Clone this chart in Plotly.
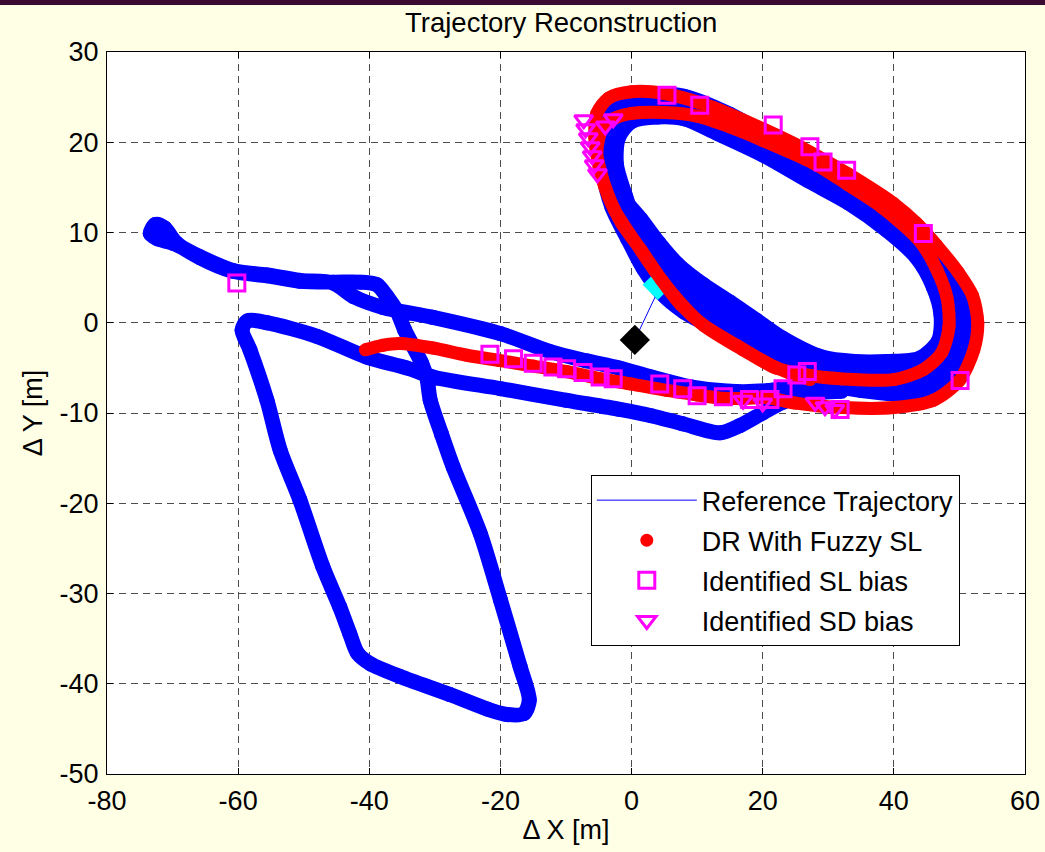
import plotly.graph_objects as go

# ---------------- data ----------------
# Reference trajectory (blue), metres: start, five loops round the ellipse,
# the long westward leg, the knob, the parallelogram and the return leg
ref_x = [0.5, 4.2, 1.5,
         -0.9, -2.3, -2, 0, 4, 8, 13, 20, 27, 33, 39, 43.5, 46, 47.2, 46.8, 44, 39, 34, 29, 23, 19, 15, 11, 7, 4.2, 1.4,
         -1.7, -3, -2.8, -0.5, 3, 8, 14, 20, 27, 33, 39, 44, 47.2, 48.6, 48.2, 45, 39, 33, 28, 23, 19, 15, 10.5, 6.5, 3.5, 0.8,
         -2.3, -3.6, -3.6, -1.5, 2.5, 8, 15, 21, 28, 34, 40, 45, 48.4, 50, 49.6, 46.5, 40, 33, 28, 23, 19, 15, 10, 5.8, 2.8, 0.3,
         -2.8, -4, -4.1, -2, 2.3, 8, 15, 22, 29, 35, 41, 46, 49.2, 50.8, 50.4, 47.2, 41, 35, 29, 23, 17, 12, 8, 4.5, 1.8, -0.6,
         -3, -4.4, -4.5, -2.5, 2, 8, 15, 22, 29, 35.5, 41.5, 46.3, 49.8, 51.4, 51, 47.5, 41, 35, 29, 25, 21,
         15, 9, 3, -2, -7, -12.4, -20, -30.3, -37.9, -42.4, -45.5, -50.6, -55.6, -60.8, -65.8, -69.9,
         -72.3, -73.4, -72.6, -71.2, -69.5, -65.8, -60.8, -55.6, -50.6, -45.5, -41.4, -38.8, -37.3, -35.8,
         -34.6, -33.4, -32, -31.2, -30.7,
         -29, -27.2, -23.1, -20, -17, -15.6, -16.4, -19, -22, -27.7, -35.3, -39.8, -41.8, -43, -44.5, -47.1,
         -50.6, -53.6, -55.6, -58.2, -59.4, -58.6, -55.6, -48, -40.4, -34.3, -30.3, -20, -9.9, -1.8, 3, 7.8,
         13.5, 16.5, 20, 23.1, 27, 32]
ref_y = [-1.9, 3.8, 9,
         14, 17.5, 20.5, 22.3, 22.8, 22.6, 21, 18.6, 15.7, 13.3, 10.2, 7.2, 4, 0.8, -2, -3.9, -4.3, -4.3, -3.8, -1.7, 0.3, 2.3, 4.2, 6.5, 8.8, 11.5,
         14.3, 17.8, 21, 23.2, 23.8, 23.5, 21.3, 19.2, 16.3, 13.9, 10.9, 7.7, 4.1, 0.4, -2.7, -4.7, -5.1, -5, -4.3, -2.3, -0.3, 1.3, 3.1, 5.3, 7.8, 10.8,
         14, 17.8, 21.2, 23.8, 24.6, 24.4, 22.2, 19.8, 16.8, 14.3, 11.3, 7.9, 4, 0, -3.5, -5.5, -6.1, -5.8, -4.7, -2.8, -1, 0.3, 1.9, 4, 6.8, 10,
         13.5, 17.5, 21.2, 24, 25, 24.9, 22.7, 19.8, 16.8, 14.2, 11, 7.2, 3.2, -0.8, -4.3, -6.7, -7.4, -7.2, -6, -3.8, -1.7, -0.3, 1.2, 3.3, 6, 9.3,
         12.8, 17, 21.3, 24.4, 25.3, 25.1, 23.1, 20.2, 17, 14.3, 11, 7.3, 3.2, -1, -4.8, -7.3, -7.9, -7.5, -6.9, -7, -7.5,
         -7.6, -7.1, -6, -5, -4.2, -3.2, -1.2, 0.6, 1.7, 2.9, 4.4, 4.7, 5.3, 5.8, 7.3, 8.8,
         9.3, 9.9, 10.9, 10.5, 8.9, 7.2, 5.7, 5.2, 4.6, 4.5, 4.5, 4.2, 2.9, 1.3,
         -0.8, -2.5, -4.5, -6.2, -8.6,
         -12.3, -16, -23.3, -30.7, -38.1, -41.8, -43.3, -43.4, -42.8, -41.2, -39.2, -37.8, -36.6, -34.4, -31.5, -27,
         -19.6, -14.1, -8.6, -3, -0.8, 0.2, 0, -1.5, -3.8, -5, -6, -7.3, -8.6, -9.6, -10.3, -11.2,
         -12.2, -11.4, -10, -8.8, -7.9, -7.6]

# Dead reckoning with fuzzy step length (red): westward start, outer loop, inner loop
dr_x = [-40.6, -38, -35.3, -30.3, -25.1, -20, -15, -10, -4.8, 0, 5.4, 10, 13, 17, 20.6, 25,
        32, 40, 46, 50, 52.2, 52.8, 52, 49.8, 46.5, 43.5, 40, 33, 26, 20, 12.3, 5, 0, -3.5, -5.3, -5.6,
        -5, -3.5, -1.5, 1.5, 4.5, 7.5, 11, 17, 22,
        27.7, 34, 40, 44.5, 47.3, 48.4, 48.1, 46.6, 44, 38, 33, 27.7, 20, 15, 10, 5, 0, -2.5, -4.3, -5.3,
        -4.5, -2.6, 0.5, 3.5, 6.5, 10.5, 16, 21, 24.5, 27.2]
dr_y = [-3, -2.5, -2.3, -2.8, -3.6, -4.2, -4.8, -5.4, -6.2, -6.8, -7.5, -8, -8.3, -8.4, -8.3, -8.9,
        -9.4, -9.4, -8.6, -6.4, -3, 0, 3, 5.6, 8.6, 11, 13.2, 16.5, 19.4, 21.5, 23.9, 25.4, 25.6, 24.9, 23.2, 20.5,
        17.5, 14, 11, 8, 4.8, 2, -0.3, -3, -5,
        -5.9, -6.3, -6.3, -5.2, -3.3, -0.5, 2.8, 5.8, 9, 12.9, 15.3, 17.7, 20.2, 21.7, 22.9, 23.3, 23.2, 22.7, 21.8, 19,
        16, 12.5, 9, 5.8, 3, 0, -2.5, -4.6, -5.7, -6.3]

# Identified step-length bias (magenta squares)
sl_x = [-60.2, -21.6, -18, -15, -12, -9.9, -7.4, -4.8, -2.8, 4.3, 7.8, 10, 14, 18, 21.1, 23.1,
        25.2, 26.8, 31.8, 50.1, 44.5, 32.8, 29.2, 27.2, 21.6, 10.4, 5.4]
sl_y = [4.4, -3.5, -4, -4.5, -4.9, -5.1, -5.5, -6, -6.2, -6.8, -7.3, -8.1, -8.2, -8.5, -8.5, -7.3,
        -5.8, -5.4, -9.6, -6.4, 9.9, 16.9, 17.8, 19.5, 21.9, 24.1, 25.2]

# Identified step-direction bias (magenta triangles)
sd_x = [-7.3, -7, -6.6, -6.3, -6, -5.7, -5.2, -4, -2.8, 17, 20, 28, 29.5, 31]
sd_y = [22.5, 21.5, 20.5, 19.5, 18.5, 17.5, 16.5, 21.8, 22.6, -8.6, -8.9, -8.8, -9.3, -9.6]

# Start markers
start_ref_x, start_ref_y = [4.0], [4.2]
start_dr_x, start_dr_y = [0.5], [-1.9]

# Axis ticks
x_ticks = [-80, -60, -40, -20, 0, 20, 40, 60]
y_ticks = [-50, -40, -30, -20, -10, 0, 10, 20, 30]

FONT = "Liberation Sans, Arial, sans-serif"
PAPER = "#FFFFE6"

fig = go.Figure()

# thin reference line (legend entry), below everything
fig.add_trace(go.Scatter(x=ref_x, y=ref_y, mode="lines", name="Reference Trajectory",
                         line=dict(color="#0000FF", width=1), legendrank=1, legendgroup="a"))
# thick blue dots of the reference trajectory
fig.add_trace(go.Scatter(x=ref_x[1:], y=ref_y[1:], mode="lines+markers", showlegend=False,
                         line=dict(color="#0000FF", width=15, shape="spline", smoothing=0.8),
                         marker=dict(color="#0000FF", size=15), hoverinfo="skip"))
# cyan start marker
fig.add_trace(go.Scatter(x=start_ref_x, y=start_ref_y, mode="markers", showlegend=False,
                         marker=dict(symbol="diamond", color="#00FFFF", size=19,
                                     line=dict(color="#00FFFF", width=4))))
# red DR trajectory
fig.add_trace(go.Scatter(x=dr_x, y=dr_y, mode="lines", showlegend=False,
                         line=dict(color="#FF0000", width=13, shape="spline", smoothing=0.8),
                         hoverinfo="skip"))
fig.add_trace(go.Scatter(x=dr_x, y=dr_y, mode="markers", name="DR With Fuzzy SL",
                         marker=dict(color="#FF0000", size=13), legendrank=2, legendgroup="b"))
# SL bias squares
fig.add_trace(go.Scatter(x=sl_x, y=sl_y, mode="markers", name="Identified SL bias",
                         marker=dict(symbol="square-open", color="#FF00FF", size=16,
                                     line=dict(color="#FF00FF", width=3)),
                         legendrank=3, legendgroup="c"))
# SD bias triangles
fig.add_trace(go.Scatter(x=sd_x, y=sd_y, mode="markers", name="Identified SD bias",
                         marker=dict(symbol="triangle-down-open", color="#FF00FF", size=16,
                                     line=dict(color="#FF00FF", width=3)),
                         legendrank=4, legendgroup="d"))
# black start diamond
fig.add_trace(go.Scatter(x=start_dr_x, y=start_dr_y, mode="markers", showlegend=False,
                         marker=dict(symbol="diamond", color="#000000", size=19,
                                     line=dict(color="#000000", width=4))))

axis_common = dict(showline=True, linecolor="black", linewidth=1, mirror="ticks",
                   ticks="inside", ticklen=6, tickcolor="black", automargin=False,
                   showgrid=True, gridcolor="#4d4d4d", gridwidth=1, griddash="7px,5px",
                   zeroline=False, tickfont=dict(family=FONT, size=27, color="black"))

fig.update_layout(
    width=1045, height=852,
    margin=dict(l=107, r=20, t=52, b=78),
    paper_bgcolor=PAPER, plot_bgcolor="white",
    font=dict(family=FONT, size=27, color="black"),
    title=dict(text="Trajectory Reconstruction", x=0.537, xanchor="center",
               y=1 - 22 / 852, yanchor="middle", font=dict(family=FONT, size=27.5)),
    xaxis=dict(range=[-80, 60], tickvals=x_ticks, ticktext=[str(v) for v in x_ticks],
               ticklabelstandoff=3,
               title=dict(text="Δ X [m]", standoff=4, font=dict(family=FONT, size=27)),
               **axis_common),
    yaxis=dict(range=[-50, 30], tickvals=y_ticks, ticktext=[str(v) for v in y_ticks],
               ticklabelstandoff=2,
               title=dict(text="Δ Y [m]", standoff=9, font=dict(family=FONT, size=27)),
               **axis_common),
    legend=dict(x=0.527, y=0.414, xanchor="left", yanchor="top",
                bgcolor="white", bordercolor="black", borderwidth=1,
                font=dict(family=FONT, size=27), itemwidth=100,
                tracegroupgap=2, traceorder="grouped"),
    showlegend=True,
    shapes=[dict(type="rect", xref="paper", yref="paper", x0=-0.2, x1=1.1, y0=1.0651, y1=1.12,
                 fillcolor="#3B0A32", line=dict(width=0), layer="above")],
)

fig.write_html("out.html",
               config={"displayModeBar": False},
               post_script="document.body.style.margin='0';"
                           "document.body.style.backgroundColor='" + PAPER + "';")
